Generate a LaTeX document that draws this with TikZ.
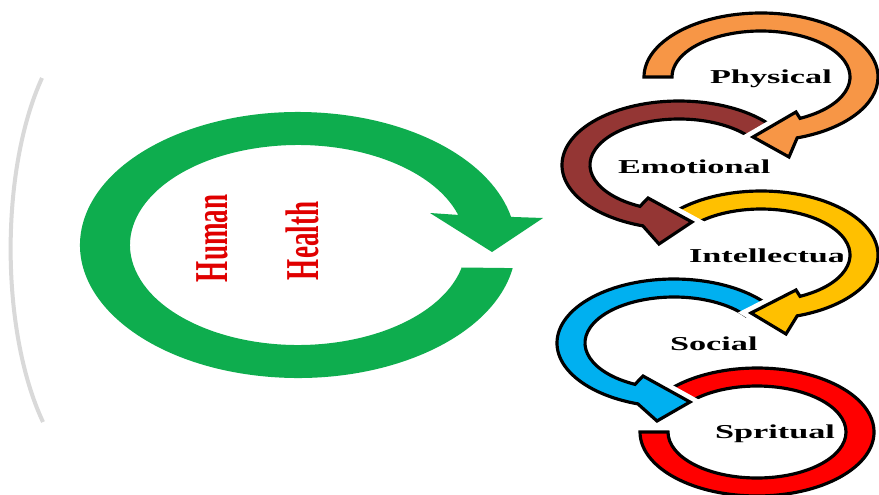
\documentclass[tikz,border=0pt]{standalone}
\usepackage{fontspec}
\setmainfont{Liberation Serif}
\usetikzlibrary{calc}
\definecolor{greenC}{HTML}{0EAD4E}
\definecolor{orangeC}{HTML}{F79646}
\definecolor{brownC}{HTML}{943634}
\definecolor{yellowC}{HTML}{FFC000}
\definecolor{blueC}{HTML}{00B0F0}
\definecolor{redC}{HTML}{FF0000}
\definecolor{textred}{HTML}{E00000}
\begin{document}
\begin{tikzpicture}[x=0.01cm,y=-0.01cm,
  ring/.style={draw=black, line width=0.9pt, line join=miter,
    preaction={draw=white, line width=3.6pt}},
  lbl/.style={anchor=base west, inner sep=0pt, outer sep=0pt,
    font=\fontsize{5.6}{6}\selectfont\bfseries, xscale=1.74},
  hh/.style={anchor=base west, inner sep=0pt, outer sep=0pt,
    font=\fontsize{7.7}{8}\selectfont\bfseries, text=textred, xscale=1.74, rotate=90}]
\useasboundingbox (0,0) rectangle (879,494);
\clip (0,0) rectangle (879,494);
\fill[white] (0,0) rectangle (879,494);
% faint background arc
\draw[gray!30, line width=0.04cm] (42,78) .. controls (0,170) and (0,330) .. (43,422);
% centres
\coordinate (G) at (298,245);
\coordinate (O) at (761,77);
\coordinate (B) at (679,165);
\coordinate (Y) at (761,255);
\coordinate (S) at (674,343);
\coordinate (R) at (757,432);
% labels
\node[hh] (human) at (227,282) {Human};
\node[hh] (health) at (318,280) {Health};
\node[lbl] (phys) at (710,83) {Physical};
\node[lbl] (emo) at (618,173) {Emotional};
\node[lbl] (intel) at (689,262) {Intellectual};
\node[lbl] (soc) at (670,350) {Social};
\node[lbl] (spir) at (715,438) {Spritual};
% green cycle arrow
\fill[greenC] ($(G)+(10:218 and 133)$) arc[start angle=10, end angle=347.8, x radius=218, y radius=133]
  -- (543,218) -- (492,252) -- (430,213)
  -- ($(G)+(342.5:168 and 100)$) arc[start angle=342.5, end angle=13, x radius=168, y radius=100] -- cycle;
% red ring (Spritual)
\path[ring, fill=redC] ($(R)+(-141:117 and 64)$) arc[start angle=-141, end angle=180, x radius=117, y radius=64]
  -- ($(R)+(180:89 and 46)$) arc[start angle=180, end angle=-139, x radius=89, y radius=46] -- cycle;
% blue ring (Social)
\path[ring, fill=blueC] ($(S)+(-36:117 and 64)$) arc[start angle=-36, end angle=-252, x radius=117, y radius=64]
  -- (657,421) -- (690,402) -- (643,376)
  -- ($(S)+(-244:89 and 46)$) arc[start angle=-244, end angle=-36, x radius=89, y radius=46] -- cycle;
% yellow ring (Intellectual)
\path[ring, fill=yellowC] ($(Y)+(-141:117 and 64)$) arc[start angle=-141, end angle=72, x radius=117, y radius=64]
  -- (786,334) -- (751,313) -- (796,290)
  -- ($(Y)+(64:89 and 46)$) arc[start angle=64, end angle=-139, x radius=89, y radius=46] -- cycle;
% brown ring (Emotional)
\path[ring, fill=brownC] ($(B)+(-36:117 and 64)$) arc[start angle=-36, end angle=-252, x radius=117, y radius=64]
  -- (659,244) -- (692,222) -- (648,198)
  -- ($(B)+(-244:89 and 46)$) arc[start angle=-244, end angle=-36, x radius=89, y radius=46] -- cycle;
% orange ring (Physical)
\path[ring, fill=orangeC] ($(O)+(180:117 and 64)$) arc[start angle=180, end angle=432, x radius=117, y radius=64]
  -- (789,157) -- (753,137) -- (796,112)
  -- ($(O)+(424:89 and 46)$) arc[start angle=424, end angle=180, x radius=89, y radius=46] -- cycle;
\end{tikzpicture}
\end{document}
